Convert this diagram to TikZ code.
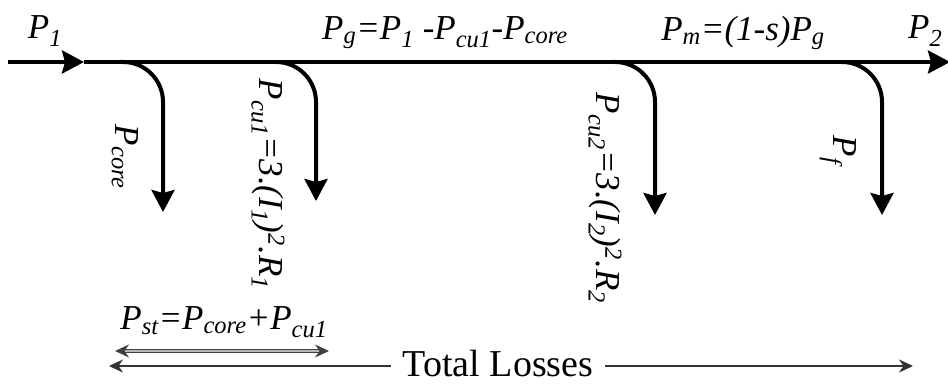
\documentclass[tikz,border=0pt]{standalone}
\usepackage{fontspec}
\setmainfont{Liberation Serif}
\usetikzlibrary{arrows.meta, positioning}

\newcommand{\lo}[1]{\textsubscript{#1}}
\newcommand{\hi}[1]{\textsuperscript{#1}}

\begin{document}
\begin{tikzpicture}[x=1pt, y=-1pt, >={Stealth[length=22pt, width=23pt, inset=3pt]},
    sm/.tip={Stealth[length=14pt, width=13pt]},
    flow/.style={line width=4pt},
    loss/.style={flow, ->, rounded corners=40pt},
    lbl/.style={font=\fontsize{35}{40}\selectfont\itshape, inner sep=0pt},
    rlbl/.style={lbl, rotate=-90}]
        \useasboundingbox (0,0) rectangle (948,385);

        % Nodes
        \coordinate (in)    at (8, 62);
        \coordinate (inTip) at (84, 62);
        \coordinate (out)   at (950, 62);

        \coordinate (core0) at (120, 62);
        \coordinate (core1) at (163, 212);
        \coordinate (cuA0)  at (275, 62);
        \coordinate (cuA1)  at (316, 201);
        \coordinate (cuB0)  at (613, 62);
        \coordinate (cuB1)  at (655, 215);
        \coordinate (fw0)   at (843, 62);
        \coordinate (fw1)   at (882, 215);

        \node [lbl] (P1) at (45, 31) {P\lo{1}};
        \node [lbl] (Pg) at (445, 33) {P\lo{g}=P\lo{1} -P\lo{cu1}-P\lo{core}};
        \node [lbl] (Pm) at (743, 33) {P\lo{m}=(1-s)P\lo{g}};
        \node [lbl, anchor=west] (P2) at (908, 31) {P\lo{2}};

        \node [rlbl] (Pcore) at (125, 157) {P\lo{core}};
        \node [rlbl] (Pcu1)  at (268, 184) {P\lo{cu1}=3.(I\lo{1})\hi{2}.R\lo{1}};
        \node [rlbl] (Pcu2)  at (605, 198) {P\lo{cu2}=3.(I\lo{2})\hi{2}.R\lo{2}};
        \node [rlbl] (Pf)    at (838, 150) {P\lo{f}};

        \node [lbl] (Pst) at (224, 322) {P\lo{st}=P\lo{core}+P\lo{cu1}};
        \node [font=\fontsize{38}{40}\selectfont, inner sep=12pt] (tot) at (498, 363) {Total Losses};

        \coordinate (st0)  at (115, 351);
        \coordinate (st1)  at (329, 351);
        \coordinate (tot0) at (109, 366);
        \coordinate (tot1) at (913, 366);

        % Edges
        \draw[flow, ->] (in) -- (inTip);
        \draw[flow, ->] (inTip) -- (out);

        \draw[loss] (core0) -| (core1);
        \draw[loss] (cuA0) -| (cuA1);
        \draw[loss] (cuB0) -| (cuB1);
        \draw[loss] (fw0) -| (fw1);

        \draw[line width=1.3pt, draw=black!75, double=gray!55, double distance=2pt, sm-sm] (st0) -- (st1);
        \draw[line width=2pt, draw=black!80, -sm] (tot.west |- tot0) -- (tot0);
        \draw[line width=2pt, draw=black!80, -sm] (tot.east |- tot1) -- (tot1);

      \end{tikzpicture}
\end{document}
